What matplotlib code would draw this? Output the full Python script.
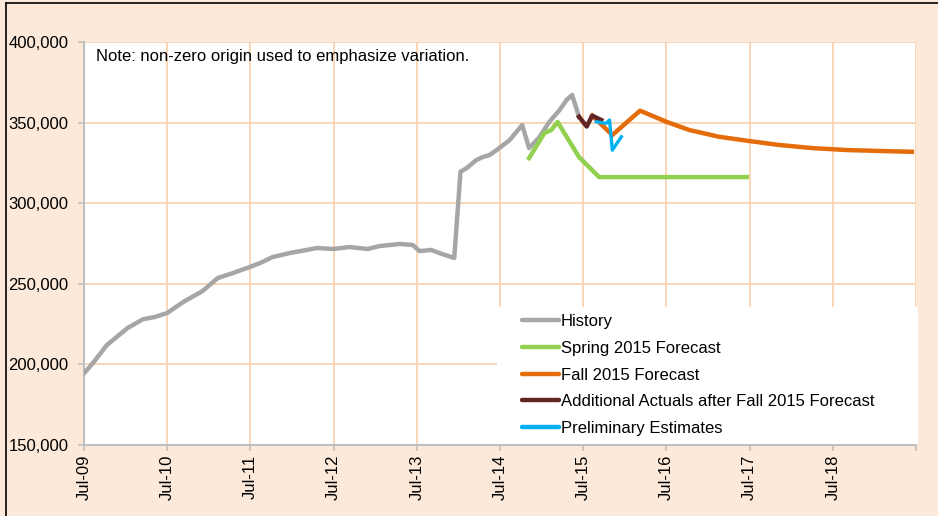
import matplotlib
matplotlib.use("Agg")
import matplotlib.pyplot as plt
from matplotlib.patches import Rectangle
from matplotlib.lines import Line2D

plt.rcParams['font.family'] = ['Liberation Sans', 'DejaVu Sans']

# x positions are months since Jul-09
hist_m = [0, 1.3, 3.3, 6.3, 8.5, 10.2, 12.0, 14.3, 17.1, 19.3, 21.5, 23.9, 25.4, 27.2,
          29.7, 33.6, 35.9, 38.3, 40.9, 42.6, 45.5, 47.4, 48.4, 50.1, 51.3, 53.4, 54.3,
          55.2, 56.6, 57.5, 58.5, 59.9, 61.4, 63.2, 64.2, 65.7, 67.1, 68.6, 69.6, 70.4, 71.4]
hist_v = [194500, 200900, 212000, 222600, 228000, 229400, 231900, 238700, 245500, 253600,
          256700, 260400, 262900, 266600, 269100, 272200, 271600, 272800, 271600, 273400,
          274700, 274100, 270300, 271000, 269000, 266000, 319500, 321800, 326800, 328600,
          329900, 334200, 339200, 348500, 334200, 341000, 350400, 357800, 364000, 367100,
          353600]

spring_m = [64.2, 66.4, 67.4, 68.3, 71.4, 74.3, 95.6]
spring_v = [328000, 343500, 345400, 350400, 328600, 316200, 316200]

fall_m = [73.3, 76.2, 80.2, 84.0, 87.3, 91.6, 95.9, 100.3, 105.0, 109.9, 114.7, 119.4]
fall_v = [354300, 342300, 357400, 350500, 345400, 341200, 338600, 336100, 334200,
          333000, 332400, 331900]

actual_m = [71.4, 72.5, 73.3, 74.6]
actual_v = [353600, 347600, 354300, 351600]

prelim_m = [73.9, 75.3, 75.8, 76.2, 77.5]
prelim_v = [350500, 349500, 351600, 332900, 341200]

tick_m = [0, 12, 24, 36, 48, 60, 72, 84, 96, 108, 120]
tick_labels = ["Jul-09", "Jul-10", "Jul-11", "Jul-12", "Jul-13", "Jul-14",
               "Jul-15", "Jul-16", "Jul-17", "Jul-18", ""]

bg = "#FDE9D9"
grid_c = "#FAD3B0"
axis_c = "#BFBFBF"

fig = plt.figure(figsize=(9.38, 5.16), dpi=100, facecolor=bg)
ax = fig.add_axes([84 / 938, 1 - 445 / 516, 832 / 938, 403 / 516])
ax.set_facecolor("white")

ax.plot(hist_m, hist_v, color="#A6A6A6", lw=3.2, label="History", zorder=4)
ax.plot(spring_m, spring_v, color="#92D050", lw=3.2, label="Spring 2015 Forecast", zorder=4)
ax.plot(fall_m, fall_v, color="#E46C0A", lw=3.2, label="Fall 2015 Forecast", zorder=4)
ax.plot(actual_m, actual_v, color="#632523", lw=3.2,
        label="Additional Actuals after Fall 2015 Forecast", zorder=5)
ax.plot(prelim_m, prelim_v, color="#00B0F0", lw=2.4, label="Preliminary Estimates", zorder=6)

ax.set_xlim(0, 120)
ax.set_ylim(150000, 400000)
ax.set_yticks(range(150000, 400001, 50000))
ax.set_yticklabels([f"{v:,}" for v in range(150000, 400001, 50000)])
ax.set_xticks(tick_m)
ax.set_xticklabels(tick_labels, rotation=90)

ax.grid(True, color=grid_c, lw=1.3, zorder=0)
ax.set_axisbelow(True)
for s in ["top", "right"]:
    ax.spines[s].set_visible(False)
for s in ["left", "bottom"]:
    ax.spines[s].set_color(axis_c)
    ax.spines[s].set_linewidth(1.5)
ax.tick_params(axis="both", colors=axis_c, labelcolor="black", labelsize=12,
               length=4, width=1.2)
ax.tick_params(axis="y", pad=7)
ax.tick_params(axis="x", pad=3)

ax.text(0.0144, 0.963, "Note: non-zero origin used to emphasize variation.",
        transform=ax.transAxes, fontsize=12, va="center", ha="left")

# white legend box
box = Rectangle((0.496, 0.0025), 0.507, 0.34, transform=ax.transAxes,
                facecolor="white", edgecolor="none", zorder=7, clip_on=False)
ax.add_patch(box)
leg = ax.legend(loc="upper left", bbox_to_anchor=(0.521, 0.337), frameon=False,
                fontsize=12, handlelength=2.2, handletextpad=0.1, labelspacing=0.70,
                borderaxespad=0, borderpad=0.3)
leg.set_zorder(8)
for h in leg.get_lines():
    h.set_linewidth(3.2)
    h.set_solid_capstyle("round")

# frame lines at top and left of the picture
fig.add_artist(Line2D([6 / 938, 1], [1 - 3 / 516, 1 - 3 / 516], color="black", lw=1.2))
fig.add_artist(Line2D([6 / 938, 6 / 938], [0, 1 - 3 / 516], color="black", lw=1.2))

fig.savefig("out.png", dpi=100, facecolor=bg)
